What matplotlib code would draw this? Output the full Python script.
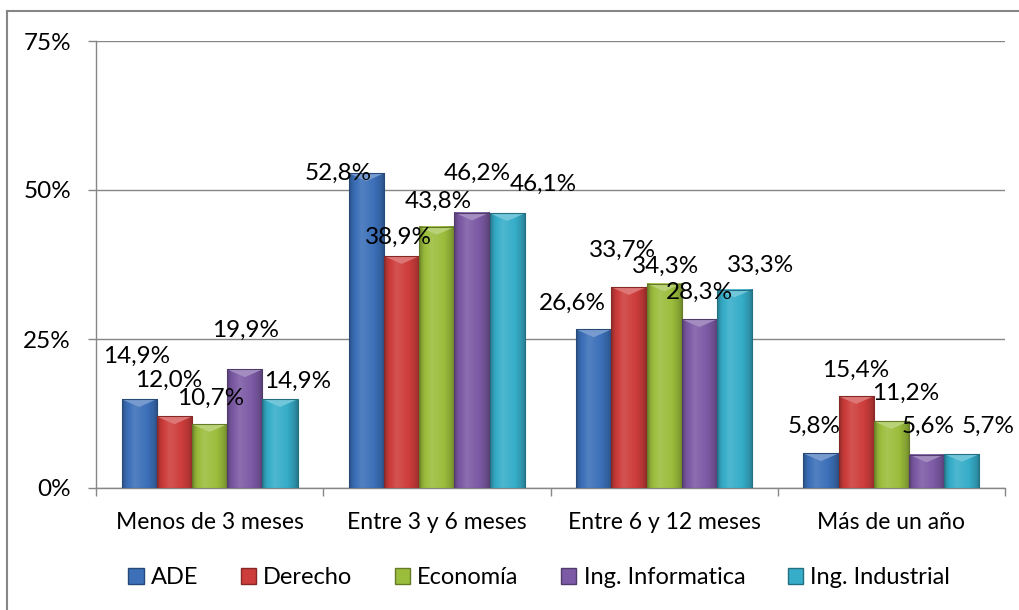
import matplotlib
matplotlib.use("Agg")
import matplotlib.pyplot as plt
import matplotlib.colors as mcolors
from matplotlib.patches import Patch, Polygon
from matplotlib.lines import Line2D
import numpy as np

plt.rcParams['font.family'] = ['Lato', 'DejaVu Sans']

categories = ['Menos de 3 meses', 'Entre 3 y 6 meses', 'Entre 6 y 12 meses', 'Más de un año']
series_names = ['ADE', 'Derecho', 'Economía', 'Ing. Informatica', 'Ing. Industrial']
ade = [14.9, 52.8, 26.6, 5.8]
derecho = [12.0, 38.9, 33.7, 15.4]
economia = [10.7, 43.8, 34.3, 11.2]
informatica = [19.9, 46.2, 28.3, 5.6]
industrial = [14.9, 46.1, 33.3, 5.7]
values = [ade, derecho, economia, informatica, industrial]

colors = ['#3c70b9', '#cd3d3b', '#9bbd3c', '#7c5aa5', '#36adc9']

# label offsets in pixels (dx, dy) from top centre of each bar, per series
label_dx = [[-3, -28, -21, -7], [-6, -3, -6, 0], [1, 1, 1, 14], [1, 5, 0, 2], [18, 36, 26, 26]]
label_dy = [[43, 0, 26, 27], [36, 19, 37, 26], [26, 26, 17, 28], [39, 39, 27, 28], [18, 29, 24, 28]]

fig = plt.figure(figsize=(10.19, 6.10), dpi=100)
ax = fig.add_axes([96 / 1019, 1 - 488 / 610, (1005 - 96) / 1019, (488 - 41) / 610])

x = np.arange(len(categories))
w = 0.155


def shade(c, f):
    rgb = np.array(mcolors.to_rgb(c))
    if f >= 1:
        return rgb + (1 - rgb) * (f - 1)
    return rgb * f


for i, (name, vals) in enumerate(zip(series_names, values)):
    bars = ax.bar(x + (i - 2) * w, vals, w, color='none', edgecolor='none', zorder=3)
    prof_pos = [0, 0.12, 0.35, 0.7, 0.9, 1]
    prof_f = [0.72, 0.95, 1.12, 1.0, 0.85, 0.7]
    xs = np.linspace(0, 1, 64)
    fs = np.interp(xs, prof_pos, prof_f)
    grad = np.array([shade(colors[i], f) for f in fs])[None, :, :]
    for j, b in enumerate(bars):
        x0, x1 = b.get_x(), b.get_x() + b.get_width()
        top = b.get_height()
        ax.imshow(grad, extent=(x0, x1, 0, top), aspect='auto', zorder=3, interpolation='bicubic')
        bev = min(1.3, top * 0.25)
        ax.add_patch(Polygon([(x0, top), (x1, top), ((x0 + x1) / 2, top - bev)],
                             closed=True, facecolor=shade(colors[i], 1.3), edgecolor='none', zorder=4))
        ax.add_patch(plt.Rectangle((x0, 0), x1 - x0, top, facecolor='none',
                                   edgecolor=shade(colors[i], 0.65), linewidth=0.8, zorder=5))
        ax.annotate(f"{vals[j]:.1f}%".replace('.', ','), (b.get_x() + b.get_width() / 2, top),
                    xytext=(label_dx[i][j], label_dy[i][j]), textcoords='offset pixels',
                    ha='center', va='center', fontsize=17.5, color='black', zorder=6)

ax.set_xlim(-0.5, 3.5)
ax.set_ylim(0, 75)
ax.set_yticks([0, 25, 50, 75])
ax.set_yticklabels(['0%', '25%', '50%', '75%'])
ax.set_xticks(x)
ax.set_xticklabels(categories)
ax.set_xticks(np.arange(-0.5, 4, 1), minor=True)
ax.tick_params(axis='x', which='major', length=0, pad=17, labelsize=16.5)
ax.tick_params(axis='x', which='minor', length=6, width=1, color='#868686', direction='out')
ax.tick_params(axis='y', length=6, width=1, color='#868686', pad=12, labelsize=17.5)
ax.grid(axis='y', color='#868686', linewidth=1, zorder=0)
ax.set_axisbelow(True)
for s in ['top', 'right']:
    ax.spines[s].set_visible(False)
for s in ['left', 'bottom']:
    ax.spines[s].set_color('#868686')
    ax.spines[s].set_linewidth(1)

handles = [Patch(facecolor=c, edgecolor=shade(c, 0.65), label=n) for c, n in zip(colors, series_names)]
fig.legend(handles=handles, loc='center', bbox_to_anchor=(0.529, 1 - 578 / 610), ncol=5,
           frameon=False, fontsize=17, handlelength=0.65, handleheight=0.65,
           handletextpad=0.3, columnspacing=1.8)

fig.add_artist(Line2D([7 / 1019, 7 / 1019], [0, 1 - 11 / 610], color='#868686', linewidth=1.5))
fig.add_artist(Line2D([7 / 1019, 1], [1 - 11 / 610, 1 - 11 / 610], color='#868686', linewidth=1.5))

fig.savefig('out.png', dpi=100)
